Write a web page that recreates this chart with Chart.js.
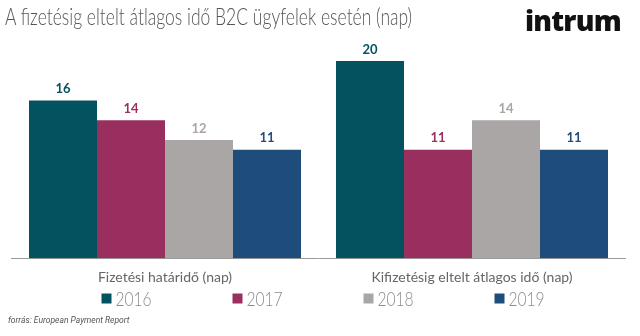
<!DOCTYPE html>
<html>
<head>
<meta charset="utf-8">
<script src="https://cdn.jsdelivr.net/npm/chart.js@4"></script>
<style>
  html, body { margin: 0; padding: 0; background: #fff; }
  #wrap { position: relative; width: 640px; height: 336px; overflow: hidden; }
  #chart { position: absolute; left: 0; top: 0; }
  .title {
    position: absolute; left: 5px; top: 2px;
    font-family: Lato, sans-serif; font-weight: 300; font-size: 23px; color: #555;
    white-space: nowrap; transform-origin: 0 0;
  }
  .logo {
    position: absolute; left: 525px; top: 1px;
    font-family: "Open Sans", sans-serif; font-weight: 800; font-size: 28px;
    color: #111; letter-spacing: -0.8px;
  }
  .source {
    position: absolute; left: 8px; top: 315px;
    font-family: Roboto, sans-serif; font-style: italic; font-size: 8.5px; color: #555;
  }
</style>
</head>
<body>
<div id="wrap">
  <canvas id="chart" width="640" height="336"></canvas>
  <div class="title" id="title">A fizetésig eltelt átlagos idő B2C ügyfelek esetén (nap)</div>
  <div class="logo">intrum</div>
  <div class="source">forrás: European Payment Report</div>
</div>
<script>
const categories = ['Fizetési határidő (nap)', 'Kifizetésig eltelt átlagos idő (nap)'];
const years = ['2016', '2017', '2018', '2019'];
const values2016 = [16, 20];
const values2017 = [14, 11];
const values2018 = [12, 14];
const values2019 = [11, 11];
const yearColors = ['#02535f', '#982f5f', '#aaa6a5', '#1f4d7b'];

// squeeze the title to the narrow look of the heading font
const titleEl = document.getElementById('title');
titleEl.style.transform = 'scaleX(' + (407 / titleEl.offsetWidth) + ')';

// value above every bar, same colour as the bar
const barValues = {
  id: 'barValues',
  afterDatasetsDraw(chart) {
    const ctx = chart.ctx;
    ctx.save();
    ctx.font = 'bold 13px Lato, sans-serif';
    ctx.textAlign = 'center';
    ctx.textBaseline = 'bottom';
    chart.data.datasets.forEach((ds, i) => {
      ctx.fillStyle = ds.backgroundColor;
      chart.getDatasetMeta(i).data.forEach((bar, j) => {
        ctx.fillText(ds.data[j], bar.x, bar.y - 5);
      });
    });
    ctx.restore();
  }
};

// wide-spaced legend row under the category labels
const spacedLegend = {
  id: 'spacedLegend',
  afterDraw(chart, args, opts) {
    const ctx = chart.ctx;
    const n = chart.data.datasets.length;
    const x0 = chart.width / 2 - (opts.step * (n - 1) + opts.itemWidth) / 2 + opts.shift;
    ctx.save();
    ctx.font = opts.font;
    ctx.textBaseline = 'middle';
    chart.data.datasets.forEach((ds, i) => {
      const x = x0 + i * opts.step;
      ctx.fillStyle = ds.backgroundColor;
      ctx.fillRect(x, opts.y - opts.box / 2, opts.box, opts.box);
      ctx.fillStyle = opts.color;
      ctx.save();
      ctx.translate(x + opts.box + 4, opts.y + 1);
      ctx.scale(opts.squeeze, 1);
      ctx.fillText(ds.label, 0, 0);
      ctx.restore();
    });
    ctx.restore();
  }
};

new Chart(document.getElementById('chart'), {
  type: 'bar',
  data: {
    labels: categories,
    datasets: years.map((y, i) => ({
      label: y,
      data: [values2016, values2017, values2018, values2019][i],
      backgroundColor: yearColors[i]
    }))
  },
  options: {
    responsive: false,
    animation: false,
    devicePixelRatio: 1,
    categoryPercentage: 0.886,
    barPercentage: 1,
    layout: { padding: { left: 11.5, right: 14.5, top: 41.4, bottom: 39 } },
    plugins: {
      tooltip: { enabled: false },
      legend: { display: false },
      spacedLegend: {
        y: 298.5, box: 10, step: 131, itemWidth: 49, shift: 2.5,
        font: '300 19px Lato, sans-serif', color: '#8a8a8a', squeeze: 0.82
      }
    },
    scales: {
      x: {
        grid: { display: false, drawTicks: false },
        border: { display: true, color: '#9a9a9a', width: 1 },
        ticks: { color: '#666', padding: 11, font: { family: 'Lato, sans-serif', size: 14 } }
      },
      y: {
        display: false,
        min: 0,
        max: 22
      }
    }
  },
  plugins: [barValues, spacedLegend]
});
</script>
</body>
</html>
